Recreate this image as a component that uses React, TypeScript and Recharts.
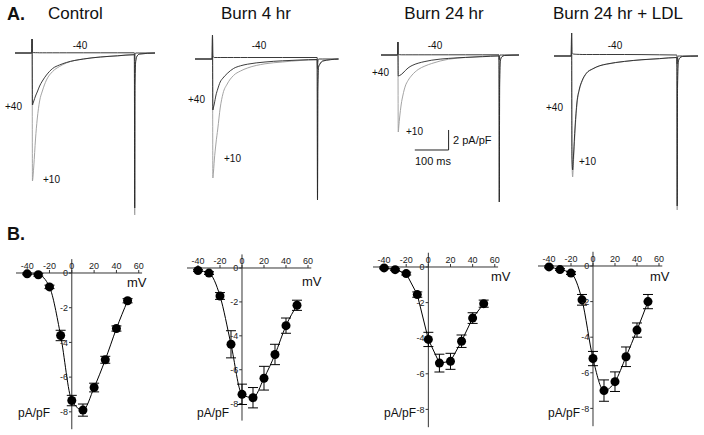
import React from "react";
import {
  LineChart, ComposedChart, Line, XAxis, YAxis, ReferenceLine, ErrorBar,
} from "recharts";

// ---- A. representative current traces (ms, pA/pF) ----
const traceT = [0, 49, 50, 51, 53, 55, 60, 65, 72, 80, 92, 110, 130, 150, 200, 250, 300, 349, 350, 351, 353, 357, 365, 410];

const ctlP10 = [0, 0, 1.4, -12.8, -12.2, -11.3, -8.6, -6.6, -4.8, -3.8, -2.7, -1.85, -1.35, -1.0, -0.6, -0.4, -0.28, -0.17, -16.2, -3, -0.8, -0.3, -0.1, 0];
const ctlP40 = [0, 0, 1.4, -5.2, -5.0, -4.8, -4.3, -3.9, -3.3, -2.8, -2.2, -1.55, -1.2, -0.95, -0.6, -0.4, -0.28, -0.17, -15.5, -3, -0.8, -0.3, -0.1, 0];
const ctlM40 = [0, 0, 1.4, 0.1, 0.05, 0.04, 0.03, 0.03, 0.02, 0.02, 0.02, 0.02, 0.02, 0.02, 0.02, 0.02, 0.02, 0.02, -0.6, -0.1, 0, 0, 0, 0];

const b4P10 = [0, 0, 2.4, -11.9, -11.2, -10.2, -8.4, -7.0, -4.9, -3.45, -2.5, -1.65, -1.2, -0.9, -0.48, -0.3, -0.15, -0.1, -14.1, -3, -0.8, -0.5, -0.2, 0];
const b4P40 = [0, 0, 2.4, -5.1, -4.8, -4.5, -3.6, -3.0, -2.3, -1.9, -1.45, -0.95, -0.68, -0.52, -0.3, -0.18, -0.1, -0.05, -14.1, -3, -0.8, -0.5, -0.2, 0];
const b4M40 = [0, 0, 2.4, 0.3, 0.2, 0.15, 0.15, 0.15, 0.15, 0.15, 0.15, 0.15, 0.15, 0.15, 0.15, 0.15, 0.15, 0.15, -1.0, -0.3, 0, 0, 0, 0];

const b24P10 = [0, 0, 1.3, -7.7, -7.0, -6.3, -4.9, -4.0, -3.1, -2.55, -2.0, -1.45, -1.1, -0.85, -0.42, -0.25, -0.13, -0.06, -14.7, -3, -0.6, -0.2, -0.05, 0];
const b24P40 = [0, 0, 1.3, -2.1, -2.08, -2.05, -1.95, -1.8, -1.55, -1.3, -1.05, -0.82, -0.65, -0.52, -0.34, -0.24, -0.17, -0.1, -14.7, -3, -0.6, -0.2, -0.05, 0];
const b24M40 = [0, 0, 1.3, 0.1, 0.05, 0.03, 0.02, 0.02, 0.02, 0.02, 0.02, 0.02, 0.02, 0.02, 0.02, 0.02, 0.02, 0.02, -0.5, -0.1, 0, 0, 0, 0];

const ldlP10 = [0, 0, 2.3, -10.5, -12.1, -10.8, -7.4, -4.9, -3.4, -2.5, -1.75, -1.3, -0.98, -0.82, -0.55, -0.38, -0.27, -0.15, -15.4, -3, -0.6, -0.2, -0.05, 0];
const ldlP40 = [0, 0, 2.3, -10.0, -11.4, -10.2, -7.0, -4.7, -3.3, -2.45, -1.72, -1.28, -0.97, -0.8, -0.54, -0.37, -0.26, -0.15, -15.0, -3, -0.6, -0.2, -0.05, 0];
const ldlM40 = [0, 0, 2.3, 0.35, 0.25, 0.2, 0.18, 0.17, 0.16, 0.15, 0.15, 0.15, 0.15, 0.15, 0.15, 0.14, 0.12, 0.1, -0.8, -0.2, 0, 0, 0, 0];

// ---- B. I-V relations ----
const volts = [-40, -30, -20, -10, 0, 10, 20, 30, 40, 50];
const ctlI = [-0.05, -0.1, -0.8, -3.6, -7.35, -7.9, -6.6, -5.0, -3.2, -1.6];
const ctlErr = [0.05, 0.08, 0.1, 0.3, 0.3, 0.35, 0.25, 0.2, 0.15, 0.12];
const b4I = [-0.15, -0.3, -1.65, -4.5, -7.45, -7.65, -6.5, -5.1, -3.4, -2.2];
const b4Err = [0.05, 0.08, 0.2, 0.8, 0.6, 0.6, 0.7, 0.6, 0.45, 0.3];
const b24I = [-0.05, -0.15, -0.37, -1.55, -4.07, -5.4, -5.3, -4.17, -2.87, -2.06];
const b24Err = [0.05, 0.05, 0.08, 0.15, 0.4, 0.5, 0.45, 0.35, 0.3, 0.2];
const ldlI = [-0.05, -0.2, -0.4, -1.9, -5.2, -7.0, -6.5, -5.1, -3.6, -2.0];
const ldlErr = [0.05, 0.05, 0.08, 0.3, 0.4, 0.6, 0.55, 0.55, 0.4, 0.4];

const xTicks = [-40, -20, 0, 20, 40, 60];
const yTicks = [0, -2, -4, -6, -8];

const FONT = '"Liberation Sans", Arial, sans-serif';

function Txt({ x, y, children, size = 10, anchor = "start", bold = false }: any) {
  const tx = anchor === "middle" ? "-50%" : anchor === "end" ? "-100%" : "0";
  return (
    <div style={{
      position: "absolute", left: x, top: y, transform: `translate(${tx}, -50%)`,
      fontFamily: FONT, fontSize: size, fontWeight: bold ? 700 : 400, lineHeight: 1,
      whiteSpace: "nowrap", color: "#111",
    }}>{children}</div>
  );
}

function TracePanel({ left, top, scale, p10, p40, m40, scaleBar = false }: any) {
  const data = traceT.map((t, k) => ({ t, a: p10[k], b: p40[k], c: m40[k] }));
  const w = 410 * scale;
  return (
    <div style={{ position: "absolute", left, top }}>
      <LineChart width={w} height={200} data={data} margin={{ top: 0, right: 0, left: 0, bottom: 0 }}>
        <XAxis type="number" dataKey="t" domain={[0, 410]} hide />
        <YAxis type="number" domain={[-17, 3]} hide />
        <Line type="monotone" dataKey="a" stroke="#9a9a9a" strokeWidth={0.9} dot={false} isAnimationActive={false} />
        <Line type="monotone" dataKey="b" stroke="#262626" strokeWidth={0.9} dot={false} isAnimationActive={false} />
        <Line type="monotone" dataKey="c" stroke="#3a3a3a" strokeWidth={1} dot={false} isAnimationActive={false} />
        {scaleBar && (
          <ReferenceLine segment={[{ x: 100, y: -9.5 }, { x: 200, y: -9.5 }]} stroke="#222" strokeWidth={1} />
        )}
        {scaleBar && (
          <ReferenceLine segment={[{ x: 200, y: -9.5 }, { x: 200, y: -7.5 }]} stroke="#222" strokeWidth={1} />
        )}
      </LineChart>
    </div>
  );
}

function IVPanel({ left, top, w, h, current, err, curve }: any) {
  const data = volts.map((v, k) => ({ v, i: current[k], e: err[k] }));
  return (
    <div style={{ position: "absolute", left, top }}>
      <ComposedChart width={w} height={h} data={data} margin={{ top: 0, right: 8, left: 8, bottom: 2 }}>
        <XAxis
          type="number" dataKey="v" orientation="top" domain={[-50, 63]} ticks={xTicks}
          height={16} tickSize={3} tickMargin={1}
          tick={{ fontSize: 9, fill: "#222", fontFamily: FONT }}
          axisLine={{ stroke: "#333" }} tickLine={{ stroke: "#333" }}
        />
        <YAxis type="number" domain={[-9, 0]} hide />
        <ReferenceLine segment={[{ x: 0, y: 0.8 }, { x: 0, y: -9 }]} stroke="#333" ifOverflow="visible" />
        {yTicks.map((y) => (
          <ReferenceLine
            key={y}
            segment={[{ x: -2.5, y }, { x: 0, y }]}
            stroke="#333"
            label={{ value: String(y), position: "left", offset: 1, fontSize: 9, fill: "#222", fontFamily: FONT }}
          />
        ))}
        <Line
          type={curve} dataKey="i" stroke="#000" strokeWidth={1}
          dot={{ r: 4.5, fill: "#000", stroke: "#000", strokeWidth: 0 }}
          isAnimationActive={false}
        >
          <ErrorBar dataKey="e" width={5} stroke="#000" strokeWidth={1} direction="y" />
        </Line>
      </ComposedChart>
    </div>
  );
}

export default function App() {
  return (
    <div style={{ position: "absolute", left: 0, top: 0, width: 704, height: 435, background: "#fff", overflow: "hidden" }}>
      <Txt x={7} y={14} size={18} bold>A.</Txt>
      <Txt x={48} y={13} size={17}>Control</Txt>
      <Txt x={256} y={13} size={17} anchor="middle">Burn 4 hr</Txt>
      <Txt x={444} y={13} size={17} anchor="middle">Burn 24 hr</Txt>
      <Txt x={618} y={13} size={17} anchor="middle">Burn 24 hr + LDL</Txt>

      <TracePanel left={15.2} top={23.3} scale={0.342} p10={ctlP10} p40={ctlP40} m40={ctlM40} />
      <TracePanel left={195.2} top={29.3} scale={0.35} p10={b4P10} p40={b4P40} m40={b4M40} />
      <TracePanel left={380.8} top={25} scale={0.338} p10={b24P10} p40={b24P40} m40={b24M40} scaleBar />
      <TracePanel left={554.1} top={26} scale={0.352} p10={ldlP10} p40={ldlP40} m40={ldlM40} />

      <Txt x={80} y={46} anchor="middle">-40</Txt>
      <Txt x={5} y={107}>+40</Txt>
      <Txt x={43} y={180}>+10</Txt>
      <Txt x={259} y={46} anchor="middle">-40</Txt>
      <Txt x={188} y={100}>+40</Txt>
      <Txt x={224} y={159}>+10</Txt>
      <Txt x={435} y={46} anchor="middle">-40</Txt>
      <Txt x={372} y={73}>+40</Txt>
      <Txt x={406} y={132}>+10</Txt>
      <Txt x={615} y={46} anchor="middle">-40</Txt>
      <Txt x={546} y={108}>+40</Txt>
      <Txt x={579} y={162}>+10</Txt>
      <Txt x={453} y={140} size={11}>2 pA/pF</Txt>
      <Txt x={433} y={161} size={11} anchor="middle">100 ms</Txt>

      <Txt x={7} y={234} size={18} bold>B.</Txt>

      <IVPanel left={7.5} top={256.7} w={142.1} h={174.2} current={ctlI} err={ctlErr} curve="monotone" />
      <IVPanel left={179.3} top={252.3} w={140.3} h={170.6} current={b4I} err={b4Err} curve="monotone" />
      <IVPanel left={365.2} top={250.7} w={141.1} h={178.2} current={b24I} err={b24Err} curve="linear" />
      <IVPanel left={530.3} top={250} w={140.3} h={178.2} current={ldlI} err={ldlErr} curve="monotone" />

      <Txt x={127} y={282} size={13}>mV</Txt>
      <Txt x={302} y={281} size={13}>mV</Txt>
      <Txt x={491} y={276} size={13}>mV</Txt>
      <Txt x={650} y={276} size={13}>mV</Txt>
      <Txt x={18} y={413} size={12}>pA/pF</Txt>
      <Txt x={197} y={413} size={12}>pA/pF</Txt>
      <Txt x={384} y={413} size={12}>pA/pF</Txt>
      <Txt x={548} y={413} size={12}>pA/pF</Txt>
    </div>
  );
}
